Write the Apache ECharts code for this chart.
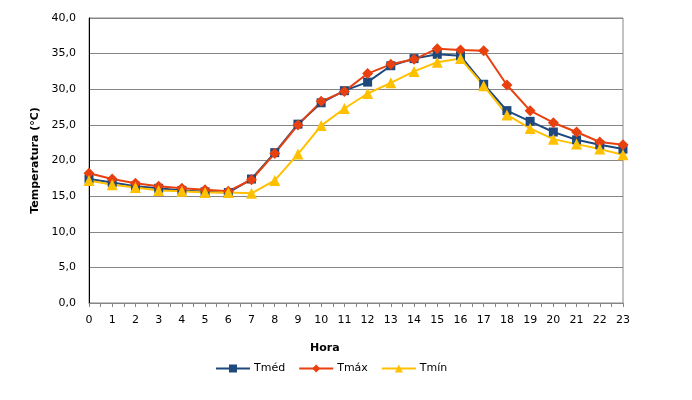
<!DOCTYPE html>
<html>
<head>
<meta charset="utf-8">
<script src="https://cdn.jsdelivr.net/npm/echarts@6/dist/echarts.min.js"></script>
<style>
  html, body { margin: 0; padding: 0; background: #fff; }
  #main { width: 692px; height: 400px; }
</style>
</head>
<body>
<div id="main"></div>
<script>
// dados horários de temperatura
var horas = [0, 1, 2, 3, 4, 5, 6, 7, 8, 9, 10, 11, 12, 13, 14, 15, 16, 17, 18, 19, 20, 21, 22, 23];
var tmed = [17.4, 16.9, 16.4, 16.1, 15.8, 15.6, 15.5, 17.4, 21.1, 25.1, 28.1, 29.8, 31.0, 33.3, 34.3, 34.9, 34.7, 30.7, 27.0, 25.5, 24.0, 22.9, 22.2, 21.6];
var tmax = [18.2, 17.4, 16.8, 16.4, 16.1, 15.9, 15.7, 17.3, 21.0, 25.0, 28.3, 29.7, 32.2, 33.5, 34.2, 35.7, 35.5, 35.4, 30.6, 27.0, 25.3, 24.0, 22.6, 22.2];
var tmin = [17.2, 16.6, 16.2, 15.8, 15.7, 15.5, 15.5, 15.4, 17.2, 20.9, 24.9, 27.3, 29.4, 30.9, 32.5, 33.8, 34.3, 30.5, 26.4, 24.5, 23.0, 22.3, 21.6, 20.8];
var yTicks = [0, 5, 10, 15, 20, 25, 30, 35, 40];

function pares(vals) {
  return horas.map(function (h, i) { return [h, vals[i]]; });
}

var fonte = 'DejaVu Sans, Verdana, sans-serif';
var myChart = echarts.init(document.getElementById('main'));

var option = {
  animation: false,
  textStyle: { fontFamily: fonte },
  grid: {
    left: 89, right: 69, top: 18, bottom: 97,
    show: true, borderColor: '#868686', borderWidth: 1
  },
  legend: {
    left: 215, top: 363, padding: 0,
    itemWidth: 34, itemHeight: 10, itemGap: 13,
    textStyle: { fontFamily: fonte, fontSize: 11, color: '#000', padding: [0, 0, 0, -1] },
    data: ['Tméd', 'Tmáx', 'Tmín']
  },
  graphic: [{
    type: 'text', left: 310, top: 343,
    style: { text: 'Hora', font: 'bold 11px ' + fonte, fill: '#000' }
  }],
  xAxis: {
    type: 'value', min: 0, max: 23, interval: 1,
    axisLine: { lineStyle: { color: '#868686' } },
    axisTick: { show: true, length: 4, lineStyle: { color: '#868686' } },
    minorTick: { show: true, splitNumber: 2, length: 4, lineStyle: { color: '#868686' } },
    axisLabel: { fontSize: 11, color: '#000', margin: 12 },
    splitLine: { show: false }
  },
  yAxis: {
    type: 'value', min: yTicks[0], max: yTicks[yTicks.length - 1], interval: 5,
    name: 'Temperatura (°C)', nameLocation: 'middle', nameGap: 46, nameRotate: 90,
    nameTextStyle: { fontWeight: 'bold', fontSize: 11, color: '#000' },
    axisLine: { show: true, lineStyle: { color: '#000' } },
    axisTick: { show: false },
    axisLabel: {
      fontSize: 11, color: '#000', margin: 13,
      formatter: function (v) { return v.toFixed(1).replace('.', ','); }
    },
    splitLine: { lineStyle: { color: '#868686', width: 1 } }
  },
  series: [
    {
      name: 'Tméd', type: 'line', data: pares(tmed),
      symbol: 'rect', symbolSize: 9, showAllSymbol: true,
      itemStyle: { color: '#1F497D' }, lineStyle: { color: '#1F497D', width: 2 }
    },
    {
      name: 'Tmáx', type: 'line', data: pares(tmax),
      symbol: 'diamond', symbolSize: 11, showAllSymbol: true,
      itemStyle: { color: '#E8400E' }, lineStyle: { color: '#E8400E', width: 2 }
    },
    {
      name: 'Tmín', type: 'line', data: pares(tmin),
      symbol: 'triangle', symbolSize: 11, showAllSymbol: true,
      itemStyle: { color: '#FFC000' }, lineStyle: { color: '#FFC000', width: 2 }
    }
  ]
};

myChart.setOption(option);
</script>
</body>
</html>
